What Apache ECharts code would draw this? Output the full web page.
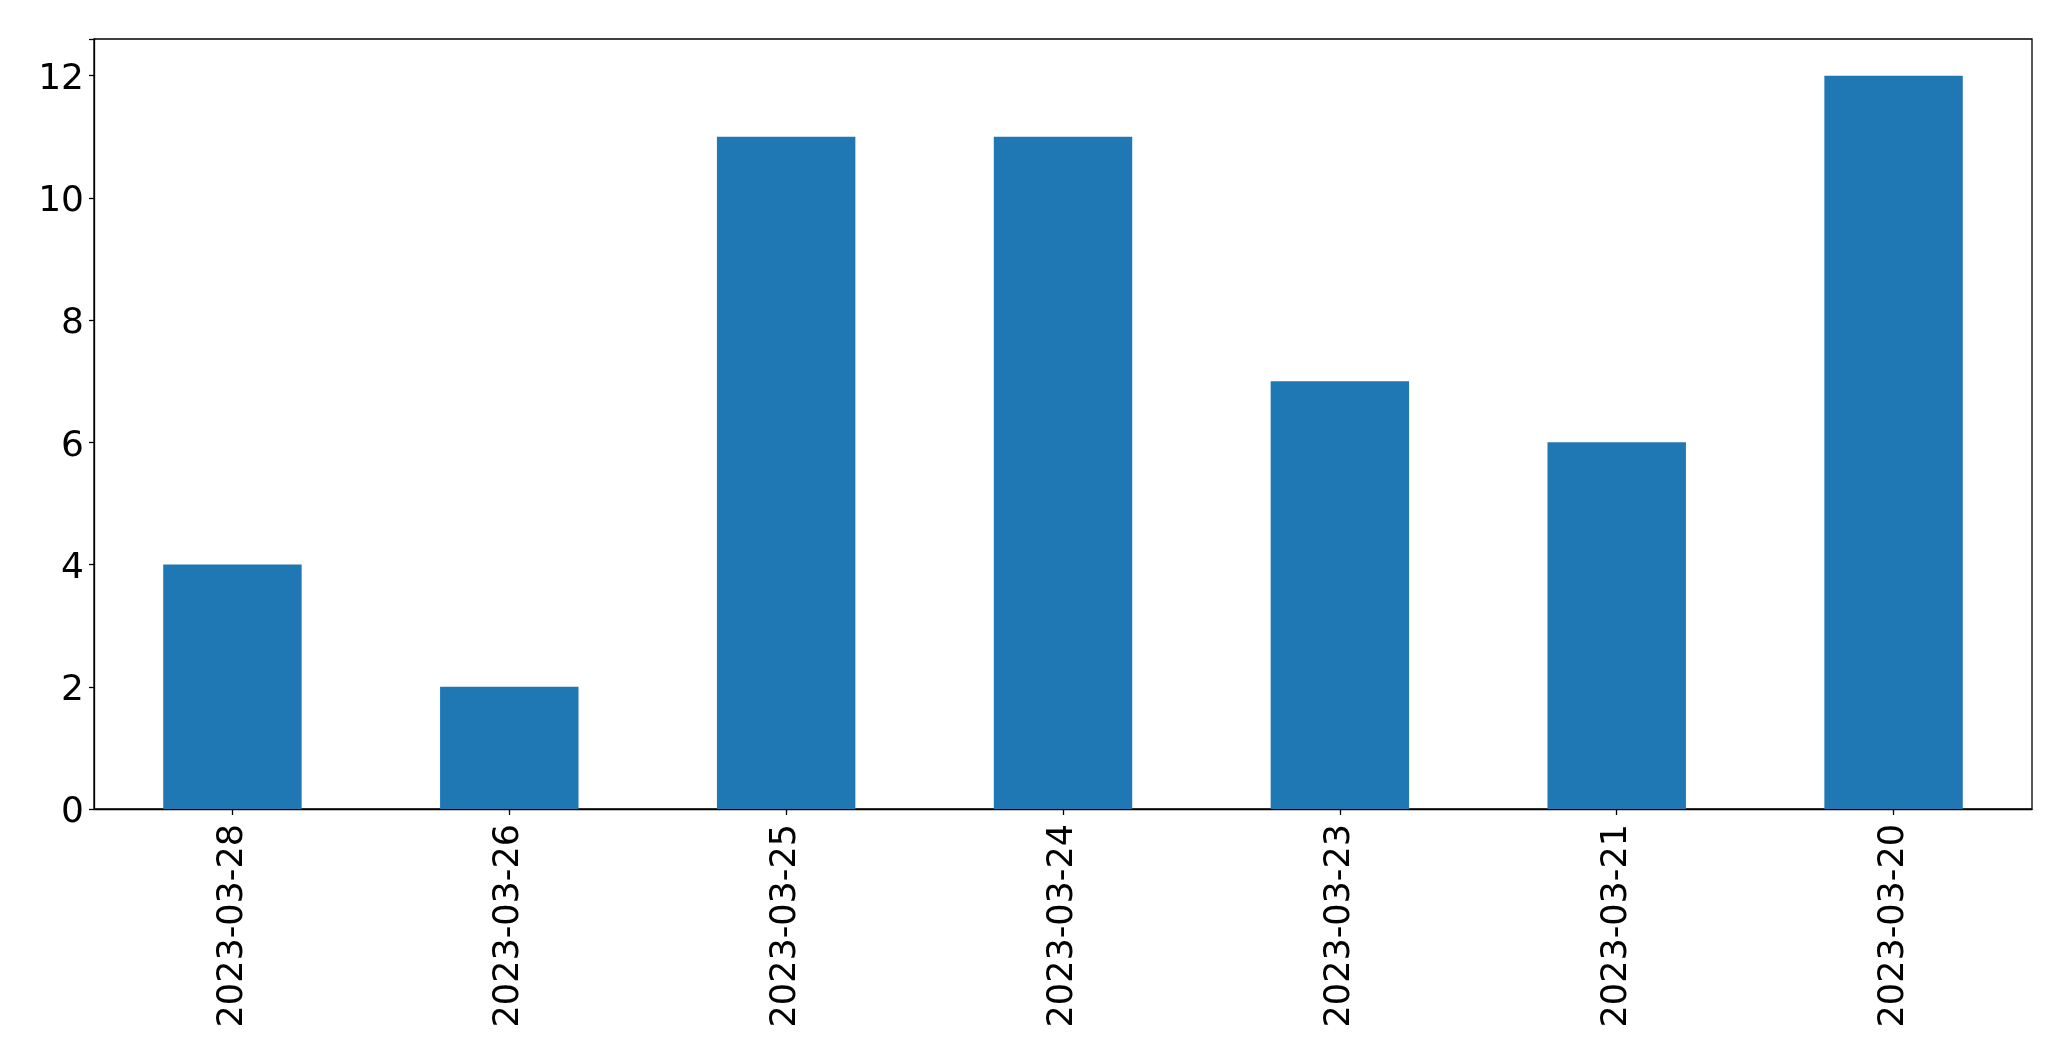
<!DOCTYPE html>
<html>
<head>
<meta charset="utf-8">
<script src="https://cdn.jsdelivr.net/npm/echarts@6/dist/echarts.min.js"></script>
<style>html,body{margin:0;padding:0;background:#fff;}#chart{width:2071px;height:1061px;}</style>
</head>
<body>
<div id="chart"></div>
<script>
const categories = ['2023-03-28','2023-03-26','2023-03-25','2023-03-24','2023-03-23','2023-03-21','2023-03-20'];
const values = [4, 2, 11, 11, 7, 6, 12];
const yTicks = [0, 2, 4, 6, 8, 10, 12];

const chart = echarts.init(document.getElementById('chart'), null, {renderer: 'canvas'});
chart.setOption({
  animation: false,
  backgroundColor: '#ffffff',
  grid: {left: 94, right: 39, top: 39, bottom: 252, show: true, borderColor: '#000', borderWidth: 1.3, containLabel: false},
  xAxis: {
    type: 'category',
    data: categories,
    axisLine: {show: true, lineStyle: {color: '#000', width: 1.3}},
    axisTick: {show: true, alignWithLabel: true, length: 6, lineStyle: {color: '#000', width: 1.3}},
    axisLabel: {rotate: 90, margin: 15, color: '#000', fontFamily: 'DejaVu Sans', fontSize: 35, interval: 0},
    splitLine: {show: false}
  },
  yAxis: {
    type: 'value',
    min: 0, max: 12.6, interval: 2,
    axisLine: {show: true, lineStyle: {color: '#000', width: 1.3}},
    axisTick: {show: true, length: 5, lineStyle: {color: '#000', width: 1.3}},
    axisLabel: {margin: 10, color: '#000', fontFamily: 'DejaVu Sans', fontSize: 36,
      formatter: function (v) { return yTicks.indexOf(v) >= 0 ? '{t|' + v + '}' : ''; },
      rich: {t: {fontFamily: 'DejaVu Sans', fontSize: 36, color: '#000', lineHeight: 36, padding: [8, 0, 0, 0]}}},
    splitLine: {show: false}
  },
  series: [{
    type: 'bar',
    data: values,
    barWidth: '50%',
    itemStyle: {color: '#1f77b4'}
  }]
});
</script>
</body>
</html>
